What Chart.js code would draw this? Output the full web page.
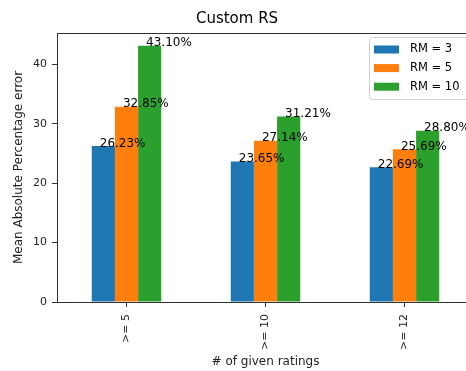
<!DOCTYPE html>
<html>
<head>
<meta charset="utf-8">
<script src="https://cdn.jsdelivr.net/npm/chart.js"></script>
<style>
  html, body { margin: 0; padding: 0; background: #fff; overflow: hidden; }
  #wrap { width: 466px; height: 371px; overflow: hidden; }
</style>
</head>
<body>
<div id="wrap"><canvas id="mapeChart" width="480" height="371"></canvas></div>
<script>
  /*** datos ***/
  const categories = ['>= 5', '>= 10', '>= 12'];
  const rm3 = [26.23, 23.65, 22.69];
  const rm5 = [32.85, 27.14, 25.69];
  const rm10 = [43.10, 31.21, 28.80];
  const yTicks = [0, 10, 20, 30, 40];
  const yMax = 45.255;

  const FONT = 'DejaVu Sans';

  /*** borde completo del area (spines de matplotlib) ***/
  const framePlugin = {
    id: 'frame',
    afterDatasetsDraw(chart) {
      const {ctx, chartArea: a} = chart;
      ctx.save();
      ctx.strokeStyle = '#333';
      ctx.lineWidth = 1;
      ctx.strokeRect(Math.round(a.left) + 0.5, Math.round(a.top) + 0.5,
        Math.round(a.right - a.left), Math.round(a.bottom - a.top));
      ctx.restore();
    }
  };

  /*** etiquetas con porcentaje sobre cada barra ***/
  const valueLabels = {
    id: 'valueLabels',
    afterDatasetsDraw(chart) {
      const ctx = chart.ctx;
      ctx.save();
      ctx.font = '12px "' + FONT + '"';
      ctx.fillStyle = '#000';
      ctx.textAlign = 'left';
      ctx.textBaseline = 'alphabetic';
      chart.data.datasets.forEach((ds, i) => {
        chart.getDatasetMeta(i).data.forEach((el, j) => {
          ctx.fillText(ds.data[j].toFixed(2) + '%', el.x - el.width / 2 + 8, el.y + 0.5);
        });
      });
      ctx.restore();
    }
  };

  /*** leyenda dentro del area, arriba a la derecha ***/
  const innerLegend = {
    id: 'innerLegend',
    afterDraw(chart) {
      const {ctx, chartArea: a} = chart;
      const right = a.right - 5, top = a.top + 4;
      const w = 100, h = 62, left = right - w;
      ctx.save();
      ctx.fillStyle = 'rgba(255,255,255,0.8)';
      ctx.strokeStyle = '#d0d0d0';
      ctx.lineWidth = 1;
      ctx.beginPath();
      ctx.roundRect(left + 0.5, top + 0.5, w, h, 3);
      ctx.fill();
      ctx.stroke();
      ctx.font = '11.5px "' + FONT + '"';
      ctx.textBaseline = 'middle';
      chart.data.datasets.forEach((ds, i) => {
        const cy = top + 12.5 + i * 18.6;
        ctx.fillStyle = ds.backgroundColor;
        ctx.fillRect(left + 5, cy - 4, 25, 8);
        ctx.fillStyle = '#000';
        ctx.fillText(ds.label, left + 41, cy);
      });
      ctx.restore();
    }
  };

  const ctx = document.getElementById('mapeChart');
  const mapeChart = new Chart(ctx, {
    type: 'bar',
    data: {
      labels: categories,
      datasets: [
        { label: 'RM = 3', data: rm3, backgroundColor: '#1f77b4' },
        { label: 'RM = 5', data: rm5, backgroundColor: '#ff7f0e' },
        { label: 'RM = 10', data: rm10, backgroundColor: '#2ca02c' }
      ]
    },
    options: {
      responsive: false,
      animation: false,
      devicePixelRatio: 1,
      layout: { padding: { top: 0, left: 0, right: 6, bottom: 0 } },
      datasets: {
        bar: { categoryPercentage: 0.5, barPercentage: 1.0, borderWidth: 0 }
      },
      scales: {
        x: {
          grid: { display: true, offset: false, drawOnChartArea: false, tickLength: 5, color: '#333' },
          border: { display: false },
          ticks: {
            minRotation: 90, maxRotation: 90, padding: 7,
            color: '#222', font: { family: FONT, size: 11 }
          },
          title: {
            display: true, text: '# of given ratings', color: '#222',
            font: { family: FONT, size: 12 }, padding: { top: 0, bottom: 2 }
          },
          afterFit(scale) { scale.height = 69; }
        },
        y: {
          min: 0, max: yMax,
          grid: { display: true, drawOnChartArea: false, tickLength: 5, color: '#333' },
          border: { display: false },
          ticks: { padding: 5, color: '#222', font: { family: FONT, size: 11 } },
          afterBuildTicks(scale) { scale.ticks = yTicks.map(v => ({ value: v })); },
          title: {
            display: true, text: 'Mean Absolute Percentage error', color: '#222',
            font: { family: FONT, size: 12 }, padding: { top: 12, bottom: 0 }
          },
          afterFit(scale) { scale.width = 57; }
        }
      },
      plugins: {
        legend: { display: false },
        tooltip: { enabled: false },
        title: {
          display: true, text: 'Custom RS', color: '#000',
          font: { family: FONT, size: 15, weight: 'normal' },
          padding: { top: 10, bottom: 5 }
        }
      }
    },
    plugins: [framePlugin, valueLabels, innerLegend]
  });
</script>
</body>
</html>
